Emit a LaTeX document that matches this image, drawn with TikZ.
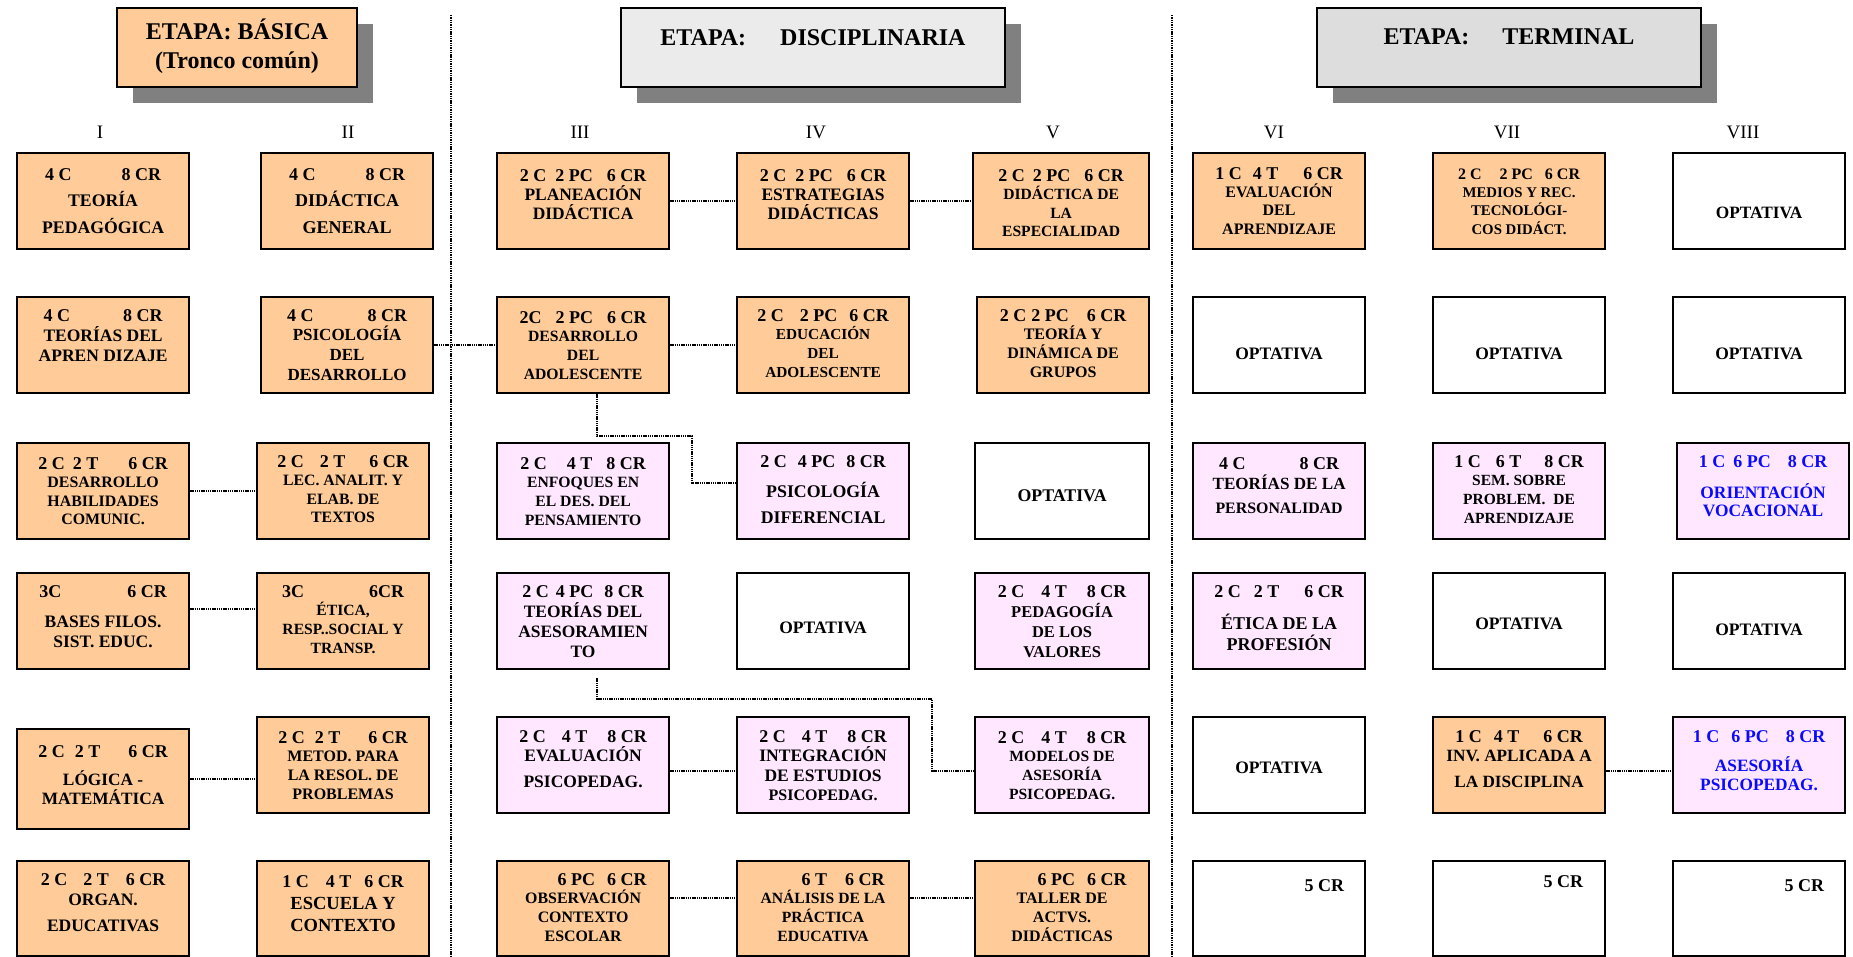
\documentclass[tikz,border=0pt]{standalone}
\usepackage{fontspec}
\setmainfont{Liberation Serif}
\usetikzlibrary{shadows,calc}
\definecolor{org}{RGB}{255,204,153}
\definecolor{pnk}{RGB}{255,232,255}
\definecolor{gA}{RGB}{235,235,235}
\definecolor{gB}{RGB}{221,221,221}
\definecolor{shd}{RGB}{128,128,128}
\definecolor{blu}{RGB}{10,10,255}
\newcommand\firstl[1]{{\fontsize{18}{18}\selectfont #1}}
\newcommand\hsp[1]{\hspace{#1pt}}
\def\bw{172}
\newcommand\cellbox[9]{%
  \edef\tdep{\the\dimexpr #4pt-#6pt\relax}%
  \node[#5, text height=#6pt, text depth=\tdep] (#1) at (#2,-#3)
   {\parbox[t]{\bw pt}{\centering\fontsize{#7}{#8}\selectfont #9}};}
\tikzset{
 cell/.style={draw=black, line width=2.2pt, inner sep=0pt, anchor=north west, font=\bfseries},
 orng/.style={cell, fill=org},
 pink/.style={cell, fill=pnk},
 wht/.style={cell, fill=white},
 conn/.style={line width=1.9pt, dash pattern=on 1.4pt off 0.8pt},
 divider/.style={line width=1.7pt, dash pattern=on 1.4pt off 0.9pt},
 hdr/.style={draw=black, line width=2pt, inner sep=0pt, anchor=north west,
   font=\bfseries\fontsize{24}{29}\selectfont,
   drop shadow={shadow xshift=16pt, shadow yshift=-16pt, fill=shd, opacity=1}},
 sem/.style={font=\fontsize{19}{19}\selectfont, inner sep=0pt, anchor=base},
}
\begin{document}
\begin{tikzpicture}[x=1pt,y=1pt]
\useasboundingbox (0,0) rectangle (1853,-956);
\fill[white] (0,0) rectangle (1853,-956);

% dividers
\draw[divider] (451,-15) -- (451,-956);
\draw[divider] (1172,-15) -- (1172,-956);

% headers
\node[hdr, fill=org, text height=31pt, text depth=48pt] (hb) at (116,-7)
  {\parbox[t]{240pt}{\centering\fontsize{24}{29}\selectfont ETAPA: BÁSICA\\(Tronco común)}};
\node[hdr, fill=gA, text height=37pt, text depth=42pt] (hd) at (620,-7)
  {\parbox[t]{384pt}{\centering\fontsize{24}{29}\selectfont ETAPA:\hspace{34pt}DISCIPLINARIA}};
\node[hdr, fill=gB, text height=36pt, text depth=43pt] (ht) at (1316,-7)
  {\parbox[t]{384pt}{\centering\fontsize{24}{29}\selectfont ETAPA:\hspace{33pt}TERMINAL}};

% semesters
\node[sem] (s1) at (100,-138) {I};
\node[sem] (s2) at (348,-138) {II};
\node[sem] (s3) at (580,-138) {III};
\node[sem] (s4) at (816,-138) {IV};
\node[sem] (s5) at (1053,-138) {V};
\node[sem] (s6) at (1274,-138) {VI};
\node[sem] (s7) at (1507,-138) {VII};
\node[sem] (s8) at (1743,-138) {VIII};

% row 1
\cellbox{b11}{16}{152}{96}{orng}{27}{17.7}{26.5}{\firstl{4 C\hsp{50}8 CR}\\TEORÍA\\PEDAGÓGICA}
\cellbox{b21}{260}{152}{96}{orng}{27}{18}{26.5}{\firstl{4 C\hsp{50}8 CR}\\DIDÁCTICA\\GENERAL}
\cellbox{b31}{496}{152}{96}{orng}{28}{17.4}{19}{\firstl{2 C\hsp{9}2 PC\hsp{14}6 CR}\\PLANEACIÓN\\DIDÁCTICA}
\cellbox{b41}{736}{152}{96}{orng}{28}{17.5}{19}{\firstl{2 C\hsp{9}2 PC\hsp{14}6 CR}\\ESTRATEGIAS\\DIDÁCTICAS}
\def\bw{176}
\cellbox{b51}{972}{152}{96}{orng}{28}{15.6}{18.5}{\firstl{2 C\hsp{8}2 PC\hsp{14}6 CR}\\DIDÁCTICA DE\\LA\\ESPECIALIDAD}
\def\bw{172}
\cellbox{b61}{1192}{152}{96}{orng}{26}{16}{18.3}{\firstl{1 C\hsp{11}4 T\hsp{25}6 CR}\\EVALUACIÓN\\DEL\\APRENDIZAJE}
\cellbox{b71}{1432}{152}{96}{orng}{26}{14.8}{18.3}{{\fontsize{16}{16}\selectfont 2 C\hsp{18}2 PC\hsp{12}6 CR}\\MEDIOS Y REC.\\TECNOLÓGI-\\COS DIDÁCT.}
\cellbox{b81}{1672}{152}{96}{wht}{65}{17.3}{20}{OPTATIVA}

% row 2
\cellbox{b12}{16}{296}{96}{orng}{24}{17.5}{20}{\firstl{4 C\hsp{53}8 CR}\\TEORÍAS DEL\\APREN DIZAJE}
\cellbox{b22}{260}{296}{96}{orng}{24}{17}{19.7}{\firstl{4 C\hsp{54}8 CR}\\PSICOLOGÍA\\DEL\\DESARROLLO}
\cellbox{b32}{496}{296}{96}{orng}{26}{15.7}{18.7}{\firstl{2C\hsp{14}2 PC\hsp{14}6 CR}\\DESARROLLO\\DEL\\ADOLESCENTE}
\cellbox{b42}{736}{296}{96}{orng}{24}{15.3}{18.7}{\firstl{2 C\hsp{16}2 PC\hsp{12}6 CR}\\EDUCACIÓN\\DEL\\ADOLESCENTE}
\cellbox{b52}{976}{296}{96}{orng}{24}{16}{18.7}{\firstl{2 C\hsp{5}2 PC\hsp{18}6 CR}\\TEORÍA Y\\DINÁMICA DE\\GRUPOS}
\cellbox{b62}{1192}{296}{96}{wht}{62}{17.5}{20}{OPTATIVA}
\cellbox{b72}{1432}{296}{96}{wht}{62}{17.5}{20}{OPTATIVA}
\cellbox{b82}{1672}{296}{96}{wht}{62}{17.5}{20}{OPTATIVA}

% row 3
\cellbox{b13}{16}{442}{96}{orng}{26}{15.9}{18.5}{\firstl{2 C\hsp{8}2 T\hsp{30}6 CR}\\DESARROLLO\\HABILIDADES\\COMUNIC.}
\cellbox{b23}{256}{442}{96}{orng}{24}{15.8}{18.5}{\firstl{2 C\hsp{16}2 T\hsp{24}6 CR}\\LEC. ANALIT. Y\\ELAB. DE\\TEXTOS}
\cellbox{b33}{496}{442}{96}{pink}{26}{15.7}{18.7}{\firstl{2 C\hsp{20}4 T\hsp{14}8 CR}\\ENFOQUES EN\\EL DES. DEL\\PENSAMIENTO}
\cellbox{b43}{736}{442}{96}{pink}{24}{17.8}{26}{\firstl{2 C\hsp{11}4 PC\hsp{11}8 CR}\\[4pt]PSICOLOGÍA\\DIFERENCIAL}
\def\bw{174}
\cellbox{b53}{974}{442}{96}{wht}{58}{17.8}{20}{OPTATIVA}
\def\bw{172}
\cellbox{b63}{1192}{442}{96}{pink}{26}{17.1}{20}{\firstl{4 C\hsp{54}8 CR}\\TEORÍAS DE LA\\[4pt]{\fontsize{15.9}{16}\selectfont PERSONALIDAD}}
\cellbox{b73}{1432}{442}{96}{pink}{24}{15.5}{18.7}{\firstl{1 C\hsp{15}6 T\hsp{23}8 CR}\\SEM. SOBRE\\PROBLEM.\hsp{8}DE\\APRENDIZAJE}
\cellbox{b83}{1676}{442}{96}{pink,text=blu}{24}{17.4}{18.5}{\firstl{1 C\hsp{8}6 PC\hsp{17}8 CR}\\[12.5pt]ORIENTACIÓN\\VOCACIONAL}

% row 4
\cellbox{b14}{16}{572}{96}{orng}{24}{17.5}{20}{\firstl{3C\hsp{66}6 CR}\\[10pt]BASES FILOS.\\SIST. EDUC.}
\cellbox{b24}{256}{572}{96}{orng}{24}{15.6}{18.7}{\firstl{3C\hsp{65}6CR}\\ÉTICA,\\RESP..SOCIAL Y\\TRANSP.}
\cellbox{b34}{496}{572}{96}{pink}{24}{17.4}{20}{\firstl{2 C\hsp{7}4 PC\hsp{11}8 CR}\\TEORÍAS DEL\\ASESORAMIEN\\TO}
\cellbox{b44}{736}{572}{96}{wht}{60}{17.5}{20}{OPTATIVA}
\def\bw{174}
\cellbox{b54}{974}{572}{96}{pink}{24}{16.5}{20}{\firstl{2 C\hsp{17}4 T\hsp{20}8 CR}\\PEDAGOGÍA\\DE LOS\\VALORES}
\def\bw{172}
\cellbox{b64}{1192}{572}{96}{pink}{24}{18}{21}{\firstl{2 C\hsp{13}2 T\hsp{25}6 CR}\\[11pt]ÉTICA DE LA\\PROFESIÓN}
\cellbox{b74}{1432}{572}{96}{wht}{56}{17.5}{20}{OPTATIVA}
\cellbox{b84}{1672}{572}{96}{wht}{62}{17.5}{20}{OPTATIVA}

% row 5
\cellbox{b15}{16}{728}{100}{orng}{28}{17.3}{19}{\firstl{2 C\hsp{10}2 T\hsp{28}6 CR}\\[9pt]LÓGICA -\\MATEMÁTICA}
\cellbox{b25}{256}{716}{96}{orng}{26}{16}{18.7}{\firstl{2 C\hsp{10}2 T\hsp{28}6 CR}\\METOD. PARA\\LA RESOL. DE\\PROBLEMAS}
\cellbox{b35}{496}{716}{96}{pink}{25}{17.5}{19}{\firstl{2 C\hsp{16}4 T\hsp{20}8 CR}\\EVALUACIÓN\\[7pt]PSICOPEDAG.}
\cellbox{b45}{736}{716}{96}{pink}{25}{17.5}{19.5}{\firstl{2 C\hsp{16}4 T\hsp{20}8 CR}\\INTEGRACIÓN\\DE ESTUDIOS\\{\fontsize{16}{16}\selectfont PSICOPEDAG.}}
\def\bw{174}
\cellbox{b55}{974}{716}{96}{pink}{26}{15.6}{18.7}{\firstl{2 C\hsp{17}4 T\hsp{20}8 CR}\\MODELOS DE\\ASESORÍA\\PSICOPEDAG.}
\def\bw{172}
\cellbox{b65}{1192}{716}{96}{wht}{56}{17.5}{20}{OPTATIVA}
\cellbox{b75}{1432}{716}{96}{orng}{25}{17.2}{19}{\firstl{1 C\hsp{12}4 T\hsp{24}6 CR}\\INV. APLICADA A\\[7pt]LA DISCIPLINA}
\cellbox{b85}{1672}{716}{96}{pink,text=blu}{25}{17.3}{19}{\firstl{1 C\hsp{12}6 PC\hsp{17}8 CR}\\[10pt]ASESORÍA\\PSICOPEDAG.}

% row 6
\cellbox{b16}{16}{860}{95}{orng}{24}{17.5}{20}{\firstl{2 C\hsp{16}2 T\hsp{17}6 CR}\\ORGAN.\\[6pt]EDUCATIVAS}
\cellbox{b26}{256}{860}{95}{orng}{26}{18.5}{22}{\firstl{1 C\hsp{17}4 T\hsp{13}6 CR}\\ESCUELA Y\\CONTEXTO}
\cellbox{b36}{496}{860}{95}{orng}{24}{15.9}{18.7}{\firstl{\hspace*{38pt}6 PC\hsp{12}6 CR}\\OBSERVACIÓN\\CONTEXTO\\ESCOLAR}
\cellbox{b46}{736}{860}{95}{orng}{24}{15.6}{18.7}{\firstl{\hspace*{40pt}6 T\hsp{18}6 CR}\\ANÁLISIS DE LA\\PRÁCTICA\\EDUCATIVA}
\def\bw{174}
\cellbox{b56}{974}{860}{95}{orng}{24}{16}{18.7}{\firstl{\hspace*{40pt}6 PC\hsp{12}6 CR}\\TALLER DE\\ACTVS.\\DIDÁCTICAS}
\def\bw{172}
\cellbox{b66}{1192}{860}{95}{wht}{30}{18}{20}{\hspace*{\fill}\firstl{5 CR}\hspace*{21pt}}
\cellbox{b76}{1432}{860}{95}{wht}{26}{18}{20}{\hspace*{\fill}\firstl{5 CR}\hspace*{22pt}}
\cellbox{b86}{1672}{860}{95}{wht}{30}{18}{20}{\hspace*{\fill}\firstl{5 CR}\hspace*{21pt}}

% connectors
\draw[conn] (b31.east) -- (b41.west);
\draw[conn] (b41.east) -- (b51.west);
\draw[conn] (b22.east) -- (b32.west);
\draw[conn] (b32.east) -- (b42.west);
\draw[conn] ([xshift=14pt]b32.south) -- ++(0,-42) -| ([xshift=-44pt,yshift=8pt]b43.west) -- ([yshift=8pt]b43.west);
\draw[conn] (b13.east) -- (b23.west);
\draw[conn] ([yshift=12pt]b14.east) -- ([yshift=12pt]b24.west);
\draw[conn] ([xshift=14pt,yshift=-8pt]b34.south) -- ++(0,-21) -| ([xshift=-42pt,yshift=-6pt]b55.west) -- ([yshift=-6pt]b55.west);
\draw[conn] (b15.east) -- (b15.east -| b25.west);
\draw[conn] ([yshift=-6pt]b35.east) -- ([yshift=-6pt]b45.west);
\draw[conn] ([yshift=-6pt]b75.east) -- ([yshift=-6pt]b85.west);
\draw[conn] ([yshift=11pt]b36.east) -- ([yshift=11pt]b46.west);
\draw[conn] ([yshift=11pt]b46.east) -- ([yshift=11pt]b56.west);
\end{tikzpicture}
\end{document}
